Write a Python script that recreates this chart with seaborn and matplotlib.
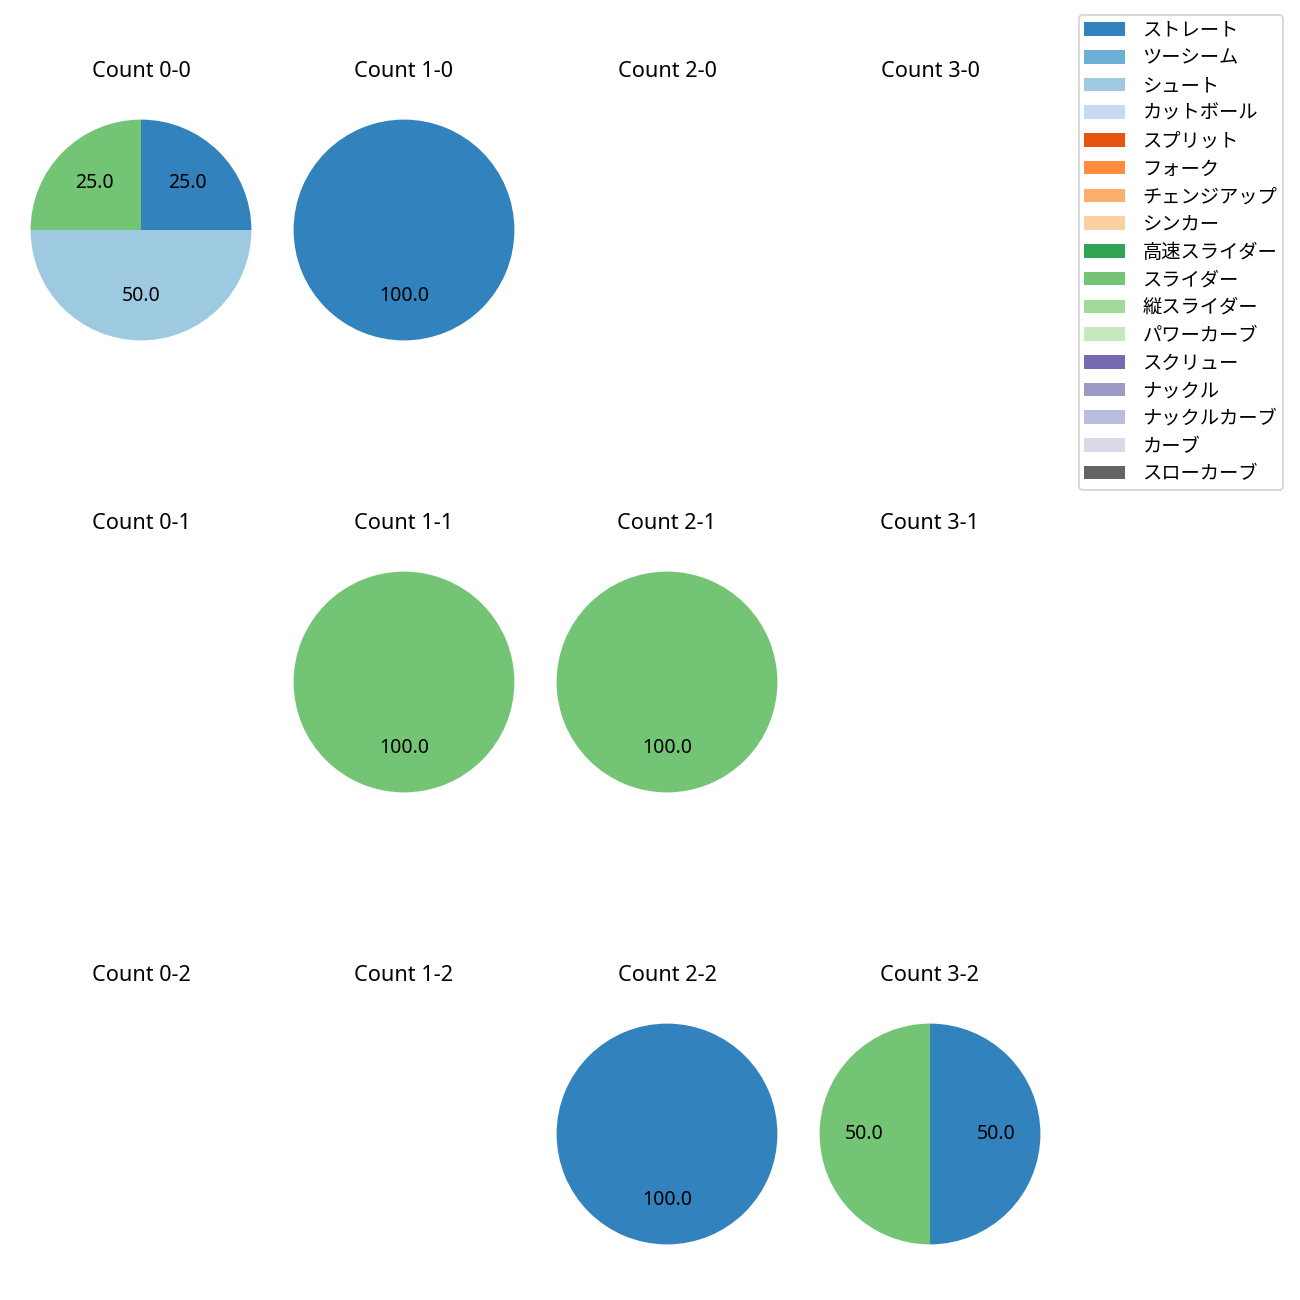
import matplotlib
matplotlib.use("Agg")
import matplotlib.pyplot as plt
from matplotlib.patches import Patch
import seaborn as sns

plt.rcParams['font.family'] = ['Noto Sans', 'Noto Sans CJK JP', 'DejaVu Sans']

pitch_types = ["ストレート", "ツーシーム", "シュート", "カットボール", "スプリット", "フォーク",
               "チェンジアップ", "シンカー", "高速スライダー", "スライダー", "縦スライダー",
               "パワーカーブ", "スクリュー", "ナックル", "ナックルカーブ", "カーブ", "スローカーブ"]

balls = [0, 1, 2, 3]
strikes = [0, 1, 2]

# counts per [strike][ball]
straight = [[1, 1, 0, 0], [0, 0, 0, 0], [0, 0, 1, 1]]
shoot = [[2, 0, 0, 0], [0, 0, 0, 0], [0, 0, 0, 0]]
slider = [[1, 0, 0, 0], [0, 1, 1, 0], [0, 0, 0, 1]]

series = {"ストレート": straight, "シュート": shoot, "スライダー": slider}

palette = sns.color_palette("tab20c", 17)
color_map = dict(zip(pitch_types, palette))

fig = plt.figure(figsize=(10, 10), dpi=130)
W = H = 1300.0
size = 276.0
for r, s in enumerate(strikes):
    for c, b in enumerate(balls):
        cx = 141 + 263 * c
        cy = 230 + 452 * r
        ax = fig.add_axes([(cx - size / 2) / W, 1 - (cy + size / 2) / H, size / W, size / H])
        vals, cols = [], []
        for p in pitch_types:
            if p in series and series[p][r][c] > 0:
                vals.append(series[p][r][c])
                cols.append(color_map[p])
        if vals:
            ax.pie(vals, colors=cols, startangle=90, counterclock=False,
                   autopct='%.1f', wedgeprops={'linewidth': 0},
                   textprops={'fontsize': 10.8})
        else:
            ax.set_xlim(-1.25, 1.25)
            ax.set_ylim(-1.25, 1.25)
            ax.set_aspect('equal')
            ax.axis('off')
        ax.set_title(f"Count {b}-{s}", fontsize=12, pad=8.2)

handles = [Patch(facecolor=color_map[p], label=p) for p in pitch_types]
fig.legend(handles=handles, loc='upper right', bbox_to_anchor=(1283 / W, 1 - 15 / H),
           borderaxespad=0, fontsize=10.7, labelspacing=0.40, borderpad=0.3,
           handlelength=2.1, handletextpad=0.9)

fig.savefig("out.png", dpi=130)
